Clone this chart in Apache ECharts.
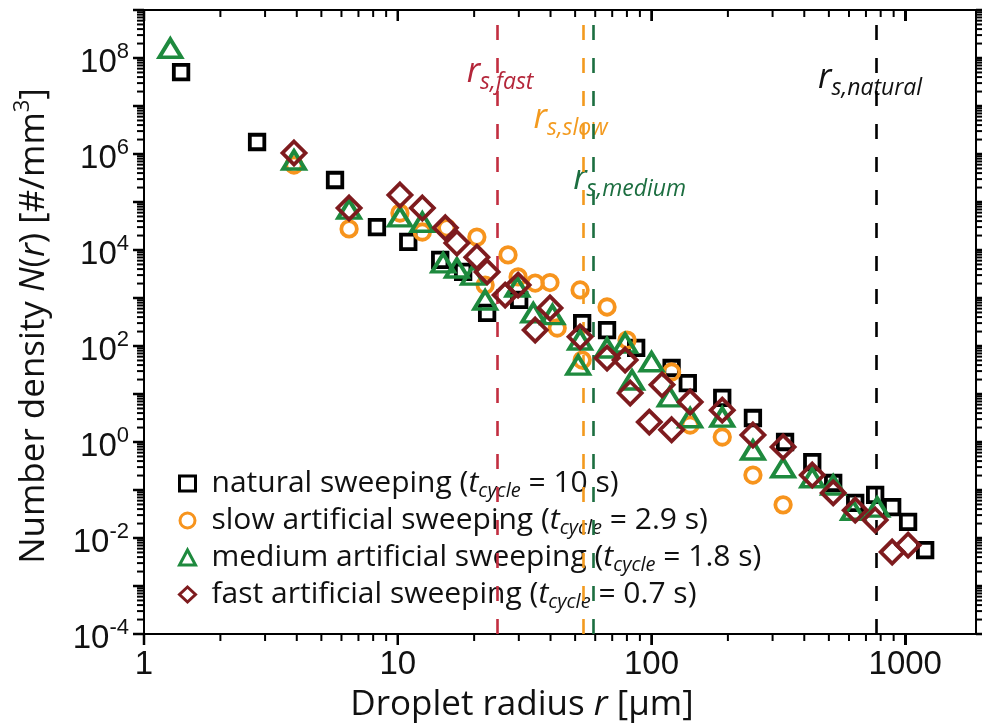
<!DOCTYPE html>
<html><head><meta charset="utf-8">
<script src="https://cdn.jsdelivr.net/npm/echarts@6/dist/echarts.min.js"></script>
<style>html,body{margin:0;padding:0;background:#fff}#c{width:982px;height:728px}</style>
</head><body><div id="c"></div>
<script>
// ---- data (droplet radius r [um], number density N [#/mm^3]) ----
const naturalR = [1.40, 2.79, 5.66, 8.28, 11.0, 14.7, 18.1, 22.5, 30.1, 53.3, 66.8, 87, 120, 139, 190, 251, 336, 430, 520, 635, 761, 888, 1026, 1198];
const naturalN = [5.1e7, 1.78e6, 2.87e5, 3.0e4, 1.47e4, 6.2e3, 3.5e3, 4.9e2, 9.1e2, 3.0e2, 2.15e2, 91, 34.8, 16.9, 8.3, 3.16, 1.0, 0.38, 0.14, 0.054, 0.079, 0.044, 0.0216, 0.0056];

const slowR = [3.90, 6.43, 10.2, 12.5, 15.6, 20.5, 22.1, 27.2, 29.8, 34.8, 39.8, 42.5, 52.3, 53.3, 66.8, 80.1, 120, 142, 190, 251, 330];
const slowN = [5.9e5, 2.75e4, 5.9e4, 2.37e4, 2.9e4, 1.86e4, 1.86e3, 7.9e3, 2.75e3, 2.05e3, 2.1e3, 237, 1.47e3, 51, 650, 133, 28.7, 2.26, 1.27, 0.205, 0.049];

const mediumR = [1.27, 3.90, 6.43, 10.2, 12.5, 15.1, 17.1, 19.8, 22.1, 29.6, 34.2, 40.7, 52.3, 51.4, 66.8, 78.7, 83.8, 100, 118, 142, 190, 251, 330, 430, 520, 623, 775];
const mediumN = [1.6e8, 7.5e5, 7.1e4, 4.9e4, 3.8e4, 5.4e3, 4.2e3, 3.0e3, 9.1e2, 1.7e3, 4.9e2, 4.5e2, 133, 40, 91, 115, 19.5, 47, 8.7, 3.2, 3.3, 0.68, 0.29, 0.18, 0.127, 0.038, 0.044];

const fastR = [3.90, 6.43, 10.2, 12.5, 15.4, 17.1, 20.5, 22.5, 26.5, 29.8, 34.8, 39.8, 52.3, 66.8, 78.7, 82.4, 98, 110, 120, 142, 190, 251, 330, 430, 520, 635, 761, 888, 1026];
const fastN = [1.05e6, 7.5e4, 1.4e5, 7.5e4, 2.9e4, 1.4e4, 7.1e3, 3.5e3, 1.15e3, 1.86e3, 215, 620, 155, 56, 51, 10.5, 2.6, 15.5, 1.8, 6.8, 4.6, 1.4, 0.79, 0.205, 0.087, 0.038, 0.0237, 0.0051, 0.0071];

const seriesNames = ['natural sweeping', 'slow artificial sweeping', 'medium artificial sweeping', 'fast artificial sweeping'];
const cycleTimes = ['10', '2.9', '1.8', '0.7'];

// critical radii r_s (vertical dashed lines) and their label anchors
const critR = [768, 53.8, 58.9, 24.6];            // natural, slow, medium, fast
const critNames = ['natural', 'slow', 'medium', 'fast'];
const critLabelR = [727, 48, 82, 25.3];
const critLabelN = [3.8e7, 5.6e6, 2.9e5, 5.1e7];

// tick labels / tick values
const xTickLabels = [1, 10, 100, 1000];
const yLabelExps = [-4, -2, 0, 2, 4, 6, 8];
const minorMantissas = [2, 3, 4, 5, 6, 7, 8, 9];
const xMajorTicks = [1, 10, 100, 1000];
const xMinorDecades = [1, 10, 100];
const yMajorTicks = [1e-4, 1e-3, 1e-2, 1e-1, 1, 10, 1e2, 1e3, 1e4, 1e5, 1e6, 1e7, 1e8, 1e9];
const yMinorDecades = [1e-4, 1e-3, 1e-2, 1e-1, 1, 10, 1e2, 1e3, 1e4, 1e5, 1e6, 1e7, 1e8];

const X_MIN = 1, X_MAX = 1900, Y_MIN = 1e-4, Y_MAX = 1e9;

// ---- styles ----
const markerColors = ['#000000', '#F7941D', '#1E8A3E', '#7E1B1E'];
const lineColors = ['#000000', '#F39A1E', '#1C6E40', '#C22E40'];
const labelColors = ['#111111', '#F39A1E', '#1C6E40', '#B4263A'];
const symbols = ['rect', 'circle', 'triangle', 'diamond'];
const symbolSizes = [14.5, 15.5, [22, 18], [23, 23]];
const dataR = [naturalR, slowR, mediumR, fastR];
const dataN = [naturalN, slowN, mediumN, fastN];

const series = seriesNames.map((name, i) => ({
  name, type: 'scatter', z: 3 + i,
  symbol: symbols[i], symbolSize: symbolSizes[i],
  itemStyle: { color: 'rgba(255,255,255,0)', borderColor: markerColors[i], borderWidth: 3.8, opacity: 1 },
  data: dataR[i].map((r, k) => [r, dataN[i][k]]),
  markLine: {
    silent: true, symbol: ['none', 'none'], animation: false,
    label: { show: false },
    lineStyle: { color: lineColors[i], width: 2.6, type: [15, 18], opacity: 1 },
    emphasis: { disabled: true },
    data: [{ xAxis: critR[i] }]
  }
}));

// axis ticks drawn as thin rect symbols placed through the axes' scales
const xMinorVals = [], yMinorVals = [];
xMinorDecades.forEach(d => minorMantissas.forEach(m => xMinorVals.push(m * d)));
yMinorDecades.forEach(d => minorMantissas.forEach(m => yMinorVals.push(m * d)));
const tickSeries = (data, size, offset) => ({
  type: 'scatter', silent: true, clip: false, z: 20, animation: false,
  symbol: 'rect', symbolSize: size, symbolOffset: offset,
  itemStyle: { color: '#000', opacity: 1, borderWidth: 0 },
  emphasis: { disabled: true },
  data
});
series.push(
  tickSeries(yMinorVals.map(v => [X_MIN, v]), [7, 2], [-3.5, 0]),
  tickSeries(yMajorTicks.map(v => [X_MIN, v]), [11, 2.5], [-5.5, 0]),
  tickSeries(yMinorVals.map(v => [X_MAX, v]), [6, 2], [3, 0]),
  tickSeries(yMajorTicks.map(v => [X_MAX, v]), [8, 2.5], [4, 0]),
  tickSeries(xMinorVals.map(v => [v, Y_MIN]), [2, 7], [0, 3.5]),
  tickSeries(xMajorTicks.map(v => [v, Y_MIN]), [2.5, 11], [0, 5.5]),
  tickSeries(xMinorVals.map(v => [v, Y_MAX]), [2, 7], [0, 3.5]),
  tickSeries(xMajorTicks.map(v => [v, Y_MAX]), [2.5, 11], [0, 5.5])
);

const axisLine = { show: true, onZero: false, lineStyle: { color: '#000', width: 2 } };
const yLabel = {
  show: true, margin: 15, interval: 0, hideOverlap: false,
  formatter: v => {
    const e = Math.round(Math.log10(v));
    return yLabelExps.includes(e) ? '{b|10}{s|' + e + '}' : '';
  },
  rich: {
    b: { fontFamily: 'Liberation Sans', fontSize: 33, color: '#111', padding: [10, 0, 0, 0] },
    s: { fontFamily: 'Liberation Sans', fontSize: 22, color: '#111', padding: [0, 0, 13, 0] }
  }
};

const option = {
  animation: false,
  backgroundColor: '#fff',
  grid: { left: 144, right: 6, top: 10, bottom: 94 },
  legend: {
    data: seriesNames, orient: 'vertical', left: 173, top: 460,
    itemWidth: 16, itemHeight: 15, itemGap: 0, symbolKeepAspect: true,
    selectedMode: false,
    itemStyle: { borderWidth: 3 },
    formatter: name => name + ' ({it|t}{sub|cycle} = ' + cycleTimes[seriesNames.indexOf(name)] + ' s)',
    textStyle: {
      fontFamily: 'Open Sans', fontSize: 30, color: '#111', lineHeight: 37, padding: [0, 0, 0, 11],
      rich: {
        it: { fontFamily: 'Open Sans', fontStyle: 'italic', fontSize: 30, color: '#111', lineHeight: 37 },
        sub: { fontFamily: 'Open Sans', fontStyle: 'italic', fontSize: 20, color: '#111', lineHeight: 21, padding: [16, 0, 0, 0] }
      }
    }
  },
  xAxis: [
    {
      type: 'log', logBase: 10, min: X_MIN, max: X_MAX, position: 'bottom',
      axisLine, splitLine: { show: false },
      axisTick: { show: true, inside: false, length: 11, lineStyle: { color: '#000', width: 2 } },
      minorTick: { show: false },
      axisLabel: {
        margin: 14, fontFamily: 'Liberation Sans', fontSize: 33, color: '#111', showMaxLabel: false,
        formatter: v => xTickLabels.includes(Math.round(v)) ? String(Math.round(v)) : ''
      }
    },
    {
      type: 'log', logBase: 10, min: X_MIN, max: X_MAX, position: 'top',
      axisLine, splitLine: { show: false },
      axisTick: { show: true, inside: true, length: 11, lineStyle: { color: '#000', width: 2 } },
      minorTick: { show: false }, axisLabel: { show: false }
    }
  ],
  yAxis: [
    {
      type: 'log', logBase: 10, min: Y_MIN, max: Y_MAX, interval: 1, splitNumber: 13, position: 'left',
      axisLine, splitLine: { show: false },
      axisTick: { show: true, inside: false, length: 11, lineStyle: { color: '#000', width: 2 } },
      minorTick: { show: false },
      axisLabel: yLabel
    },
    {
      type: 'log', logBase: 10, min: Y_MIN, max: Y_MAX, interval: 1, splitNumber: 13, position: 'right',
      axisLine, splitLine: { show: false },
      axisTick: { show: true, inside: false, length: 8, lineStyle: { color: '#000', width: 2 } },
      minorTick: { show: false },
      axisLabel: { show: false }
    }
  ],
  series
};

const chart = echarts.init(document.getElementById('c'), null, { renderer: 'canvas' });
chart.setOption(option);

const toPx = (x, y) => chart.convertToPixel({ xAxisIndex: 0, yAxisIndex: 0 }, [x, y]);

const graphics = [
  {
    type: 'text', x: 522, y: 705, silent: true,
    style: {
      text: 'Droplet radius {i|r} [µm]', fontFamily: 'Open Sans', fontSize: 35, fill: '#111',
      align: 'center', verticalAlign: 'middle',
      rich: { i: { fontFamily: 'Open Sans', fontStyle: 'italic', fontSize: 35, fill: '#111' } }
    }
  },
  {
    type: 'text', x: 34, y: 326, rotation: Math.PI / 2, silent: true,
    style: {
      text: 'Number density {i|N}({i|r}) [#/mm{sup|3}]', fontFamily: 'Open Sans', fontSize: 35, fill: '#111',
      align: 'center', verticalAlign: 'middle',
      rich: {
        i: { fontFamily: 'Open Sans', fontStyle: 'italic', fontSize: 35, fill: '#111' },
        sup: { fontFamily: 'Open Sans', fontSize: 22, fill: '#111', padding: [0, 0, 22, 0] }
      }
    }
  }
];

critNames.forEach((nm, i) => {
  const p = toPx(critLabelR[i], critLabelN[i]);
  graphics.push({
    type: 'text', x: p[0], y: p[1], silent: true,
    style: {
      text: '{r|r}{s|s,' + nm + '}', align: 'center', verticalAlign: 'middle',
      rich: {
        r: { fontFamily: 'Open Sans', fontStyle: 'italic', fontSize: 34, fill: labelColors[i] },
        s: { fontFamily: 'Open Sans', fontStyle: 'italic', fontSize: 23, fill: labelColors[i], padding: [20, 0, 0, 0] }
      }
    }
  });
});
chart.setOption({ graphic: { elements: graphics } });
</script>
</body></html>
